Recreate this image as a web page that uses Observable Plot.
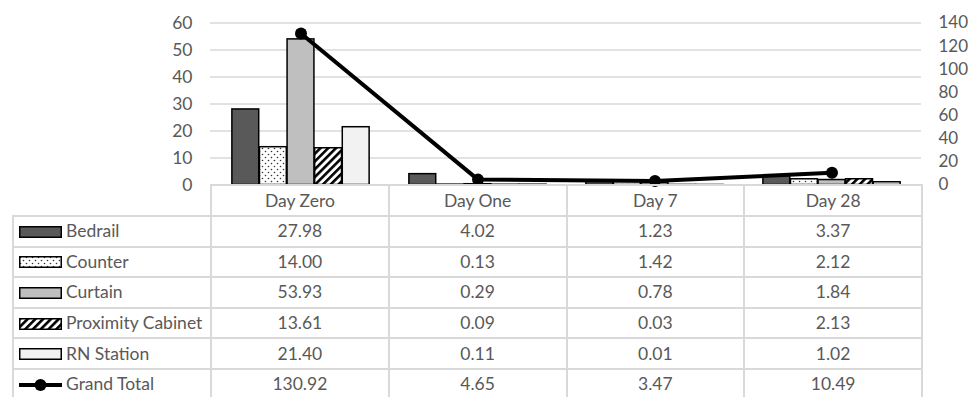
<!DOCTYPE html>
<html><head><meta charset="utf-8">
<script src="https://cdn.jsdelivr.net/npm/d3@7"></script>
<script src="https://cdn.jsdelivr.net/npm/@observablehq/plot@0.6"></script>
<style>
body{margin:0;background:#fff;font-family:Lato,sans-serif;}
#wrap{position:relative;width:969px;height:397px;overflow:hidden;background:#fff;}
#chart{position:absolute;left:0;top:0;}
#tbl{position:absolute;left:12px;top:184px;border-collapse:collapse;table-layout:fixed;width:910px;font-family:Lato,sans-serif;font-size:17.5px;color:#595959;}
#tbl td{border:2px solid #d9d9d9;text-align:center;padding:0;white-space:nowrap;overflow:hidden;line-height:20px;}
#tbl tr{height:30.6px;}
#tbl tr.head{height:31px;}
#tbl td.blank{border-top:none;border-left:none;}
#tbl td.lab{text-align:left;padding-left:5px;}
#tbl td.lab svg{vertical-align:middle;margin-right:4px;position:relative;top:-1px;}
</style></head><body>
<div id="wrap">
<svg width="0" height="0" style="position:absolute">
<defs>
<pattern id="dots" patternUnits="userSpaceOnUse" width="6" height="6">
<rect width="6" height="6" fill="#fff"/>
<circle cx="1.5" cy="1.5" r="0.8" fill="#333"/>
<circle cx="4.5" cy="4.5" r="0.8" fill="#333"/>
</pattern>
<pattern id="stripes" patternUnits="userSpaceOnUse" width="5.5" height="5.5" patternTransform="rotate(45)">
<rect width="5.5" height="5.5" fill="#fff"/>
<rect width="2.6" height="5.5" fill="#000"/>
</pattern>
</defs>
</svg>
<div id="chart"></div>
<table id="tbl"></table>
</div>
<script>
const days = ["Day Zero", "Day One", "Day 7", "Day 28"];
const series = ["Bedrail", "Counter", "Curtain", "Proximity Cabinet", "RN Station"];
const bedrail = [27.98, 4.02, 1.23, 3.37];
const counter = [14.00, 0.13, 1.42, 2.12];
const curtain = [53.93, 0.29, 0.78, 1.84];
const proximity = [13.61, 0.09, 0.03, 2.13];
const rnStation = [21.40, 0.11, 0.01, 1.02];
const grandTotal = [130.92, 4.65, 3.47, 10.49];
const totalLabel = "Grand Total";
const leftTicks = [0, 10, 20, 30, 40, 50, 60];
const rightTicks = [0, 20, 40, 60, 80, 100, 120, 140];

const values = [bedrail, counter, curtain, proximity, rnStation];
const fills = ["#595959", "url(#dots)", "#bfbfbf", "url(#stripes)", "#f2f2f2"];
const rightMax = 140, leftMax = 60;
const toLeft = v => v * leftMax / rightMax;

const W = 969, mL = 210, mR = 48;
const band = (W - mL - mR) / days.length;
const bw = 27.6;
const off = (band - bw * series.length) / 2;

const barMarks = values.map((v, k) => Plot.barY(days, {
  x: d => d,
  y: (d, i) => v[i],
  fill: fills[k],
  stroke: "#000",
  strokeWidth: 1.5,
  insetLeft: off + k * bw,
  insetRight: band - off - (k + 1) * bw
}));

const chart = Plot.plot({
  width: W,
  height: 200,
  marginTop: 22.5,
  marginBottom: 15.5,
  marginLeft: mL,
  marginRight: mR,
  style: {fontFamily: "Lato, sans-serif", fontSize: "17px", background: "transparent", overflow: "visible"},
  x: {type: "band", domain: days, padding: 0, axis: null},
  y: {domain: [0, leftMax], axis: null},
  marks: [
    Plot.gridY(leftTicks.filter(t => t > 0), {stroke: "#d9d9d9", strokeOpacity: 1, strokeWidth: 1.5}),
    ...barMarks,
    Plot.lineY(days, {x: d => d, y: (d, i) => toLeft(grandTotal[i]), stroke: "#000", strokeWidth: 4}),
    Plot.dot(days, {x: d => d, y: (d, i) => toLeft(grandTotal[i]), r: 6, fill: "#000"}),
    Plot.axisY(leftTicks, {anchor: "left", tickSize: 0, tickPadding: 18, fill: "#595959", fontSize: 17.5, label: null}),
    Plot.axisY(rightTicks.map(toLeft), {anchor: "right", tickSize: 0, tickPadding: 17, fill: "#595959", fontSize: 17, label: null, tickFormat: d => Math.round(d * rightMax / leftMax)})
  ]
});
document.getElementById("chart").appendChild(chart);

// legend/data table
const fmt = d3.format(".2f");
const tbl = document.getElementById("tbl");
const colW = [mL - 12, band, band, band, band];
const cg = document.createElement("colgroup");
colW.forEach(w => { const c = document.createElement("col"); c.style.width = w + "px"; cg.appendChild(c); });
tbl.appendChild(cg);
let html = '<tr class="head"><td class="blank"></td>' + days.map(d => `<td>${d}</td>`).join("") + '</tr>';
series.forEach((s, k) => {
  const sw = `<svg width="43" height="12"><rect x="0.75" y="0.75" width="41.5" height="10.5" fill="${fills[k]}" stroke="#000" stroke-width="1.5"/></svg>`;
  html += `<tr><td class="lab">${sw}${s}</td>` + values[k].map(v => `<td>${fmt(v)}</td>`).join("") + '</tr>';
});
const lsw = `<svg width="43" height="14"><line x1="0" y1="7" x2="43" y2="7" stroke="#000" stroke-width="4"/><circle cx="21.5" cy="7" r="6" fill="#000"/></svg>`;
html += `<tr><td class="lab">${lsw}${totalLabel}</td>` + grandTotal.map(v => `<td>${fmt(v)}</td>`).join("") + '</tr>';
tbl.innerHTML += html;
</script>
</body></html>
